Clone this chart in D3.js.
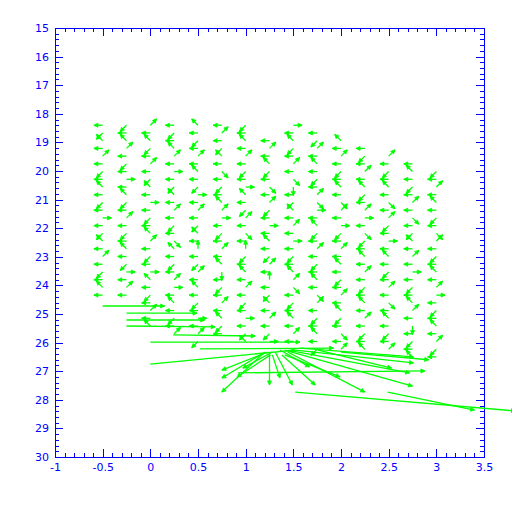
<!DOCTYPE html>
<html>
<head>
<meta charset="utf-8">
<script src="https://cdn.jsdelivr.net/npm/d3@7"></script>
<style>
  body { margin: 0; background: #fff; }
  .axis text { font-family: "DejaVu Sans", sans-serif; font-size: 11px; fill: #0000ff; }
  .axis line { stroke: #0000ff; }
  .axis path { display: none; }
</style>
</head>
<body>
<svg id="chart" width="512" height="512"></svg>
<script>
// tick labels
var xTickLabels = [-1, -0.5, 0, 0.5, 1, 1.5, 2, 2.5, 3, 3.5];
var yTickLabels = [15, 16, 17, 18, 19, 20, 21, 22, 23, 24, 25, 26, 27, 28, 29, 30];

// grid of small vectors: column x, first row index, one direction code per row
var rowY = [18.40, 18.67, 18.94, 19.21, 19.48, 19.75, 20.02, 20.29, 20.56, 20.83,
            21.10, 21.37, 21.64, 21.91, 22.18, 22.45, 22.72, 22.99, 23.26, 23.53,
            23.80, 24.07, 24.34, 24.61, 24.88, 25.15, 25.42, 25.69, 25.96, 26.23, 26.50];
var colX     = [-0.5, -0.25, 0, 0.25, 0.5, 0.75, 1.0, 1.25, 1.5, 1.75, 2.0, 2.25, 2.5, 2.75, 3.0];
var colStart = [0, 0, 0, 0, 0, 0, 0, 2, 0, 1, 2, 3, 4, 5, 6];
var colCodes = [
  "lzqlelzlqlzlrlzqlelzlql",
  "zlqelzlrlqzlelzlqlzrlel",
  "elqzlelzqlrlzlqelzlrqlzlelq",
  "lzlqelrlzqlelzlcqlzlerlqlzle",
  "qlzlelqlzrlelzqlulzelqlzlrlez",
  "lelzqlclzlqerlzlelqdlzlelqzl",
  "zlqlelzlrqlzelcluzlqlelzlrlzq",
  "lelqzlclezlrlqlzelulzqlelzr",
  "rlqzlelcdlzqlelrlzlqeclzlqlel",
  "lzelqlzlecrlqzlelzlqlcelzlqlz",
  "qlelzlqlcelrzlelqlzlelqzlcle",
  "lzlelqzlerlczlqlelzlqlelzlq",
  "elzlqlclezlrlqlzlelclqlzle",
  "lqlzlelclzqlelrlzlqeldlzlq",
  "zlelqlzlcelzlqlerlzlqlezl"
];
// direction code -> (u, v) in data units
var codeU = { l: -0.092, r: 0.092, q: -0.066, e: 0.066, z: -0.066, c: 0.066, u: 0, d: 0 };
var codeV = { l: 0, r: 0, q: -0.22, e: -0.22, z: 0.22, c: 0.22, u: -0.3, d: 0.3 };

// long vectors near the bottom: tail (x0,y0) -> head (x1,y1)
var longX0 = [-0.5, -0.25, -0.25, -0.25, 0.24, 0, 0, 0.52, 1.20, 1.17, 1.23, 1.26, 1.28, 1.25, 1.31, 1.28,
              1.36, 1.41, 1.44, 1.52, 1.57, 0.92, 1.52, 2.49, 1.44, 1.41, 1.38, 1.76, 2.00];
var longY0 = [24.72, 24.97, 25.21, 25.42, 25.73, 25.98, 26.75, 26.22, 26.33, 26.40, 26.33, 26.43, 26.33, 26.33, 26.33, 26.43,
              26.26, 26.26, 26.26, 26.26, 26.19, 27.06, 27.73, 27.73, 26.33, 26.43, 26.43, 26.26, 26.33];
var longX1 = [0.15, 0.49, 0.57, 0.68, 1.10, 1.57, 1.52, 1.92, 0.75, 0.75, 0.75, 0.91, 0.97, 1.25, 1.49, 1.36,
              1.67, 2.75, 2.72, 2.76, 2.76, 2.88, 3.83, 3.40, 2.25, 1.99, 1.73, 2.53, 2.92];
var longY1 = [24.72, 24.97, 25.21, 25.45, 25.77, 25.98, 26.26, 26.19, 27.73, 27.24, 26.96, 27.20, 26.89, 27.48, 27.48, 27.24,
              26.85, 27.52, 27.06, 26.71, 26.50, 26.99, 28.39, 28.36, 27.73, 27.20, 27.48, 26.89, 26.60];

var margin = { left: 55, top: 28, right: 28, bottom: 55 };
var width = 512 - margin.left - margin.right;
var height = 512 - margin.top - margin.bottom;
var blue = '#0000ff', green = '#00ff00';

var svg = d3.select('#chart');
var g = svg.append('g').attr('transform', 'translate(' + margin.left + ',' + margin.top + ')');

var xScale = d3.scaleLinear().domain([-1, 3.5]).range([0, width]);
var yScale = d3.scaleLinear().domain([15, 30]).range([0, height]);

var xMinor = d3.range(-1, 3.5001, 0.1);
var yMinor = d3.range(15, 30.001, 0.2);

function addAxis(axis, tr, labels) {
  var a = g.append('g').attr('class', 'axis').attr('transform', tr).call(axis);
  if (!labels) a.selectAll('text').remove();
  a.selectAll('line').attr('shape-rendering', 'crispEdges');
  return a;
}

// major + minor ticks, inward on all four sides
addAxis(d3.axisBottom(xScale).tickValues(xTickLabels).tickSize(-8).tickPadding(6)
  .tickFormat(function (d) { return d; }), 'translate(0,' + height + ')', true);
addAxis(d3.axisBottom(xScale).tickValues(xMinor).tickSize(-4).tickFormat(''), 'translate(0,' + height + ')');
addAxis(d3.axisTop(xScale).tickValues(xTickLabels).tickSize(-8).tickFormat(''), 'translate(0,0)');
addAxis(d3.axisTop(xScale).tickValues(xMinor).tickSize(-4).tickFormat(''), 'translate(0,0)');
addAxis(d3.axisLeft(yScale).tickValues(yTickLabels).tickSize(-8).tickPadding(6)
  .tickFormat(function (d) { return d; }), 'translate(0,0)', true);
addAxis(d3.axisLeft(yScale).tickValues(yMinor).tickSize(-4).tickFormat(''), 'translate(0,0)');
addAxis(d3.axisRight(yScale).tickValues(yTickLabels).tickSize(-8).tickFormat(''), 'translate(' + width + ',0)');
addAxis(d3.axisRight(yScale).tickValues(yMinor).tickSize(-4).tickFormat(''), 'translate(' + width + ',0)');

g.append('rect')
  .attr('x', 0.5).attr('y', 0.5).attr('width', width).attr('height', height)
  .attr('fill', 'none').attr('stroke', blue).attr('shape-rendering', 'crispEdges');

// build vector list
var vectors = [];
colCodes.forEach(function (codes, c) {
  codes.split('').forEach(function (k, i) {
    var y0 = rowY[colStart[c] + i];
    vectors.push({ x0: colX[c], y0: y0, x1: colX[c] + codeU[k], y1: y0 + codeV[k] });
  });
});
longX0.forEach(function (d, i) {
  vectors.push({ x0: longX0[i], y0: longY0[i], x1: longX1[i], y1: longY1[i] });
});

var arrows = g.append('g');

arrows.selectAll('line.shaft')
  .data(vectors).enter().append('line')
  .attr('class', 'shaft')
  .attr('x1', function (d) { return xScale(d.x0); })
  .attr('y1', function (d) { return yScale(d.y0); })
  .attr('x2', function (d) { return xScale(d.x1); })
  .attr('y2', function (d) { return yScale(d.y1); })
  .attr('stroke', green).attr('stroke-width', 1.3);

arrows.selectAll('path.head')
  .data(vectors).enter().append('path')
  .attr('class', 'head')
  .attr('fill', green)
  .attr('stroke', green).attr('stroke-width', 0.8)
  .attr('d', function (d) {
    var hx = xScale(d.x1), hy = yScale(d.y1);
    var dx = hx - xScale(d.x0), dy = hy - yScale(d.y0);
    var len = Math.sqrt(dx * dx + dy * dy) || 1;
    var ux = dx / len, uy = dy / len;
    var hl = 4, hw = 2;
    var bx = hx - ux * hl, by = hy - uy * hl;
    return 'M' + hx + ',' + hy +
      'L' + (bx - uy * hw) + ',' + (by + ux * hw) +
      'L' + (bx + uy * hw) + ',' + (by - ux * hw) + 'Z';
  });
</script>
</body>
</html>
